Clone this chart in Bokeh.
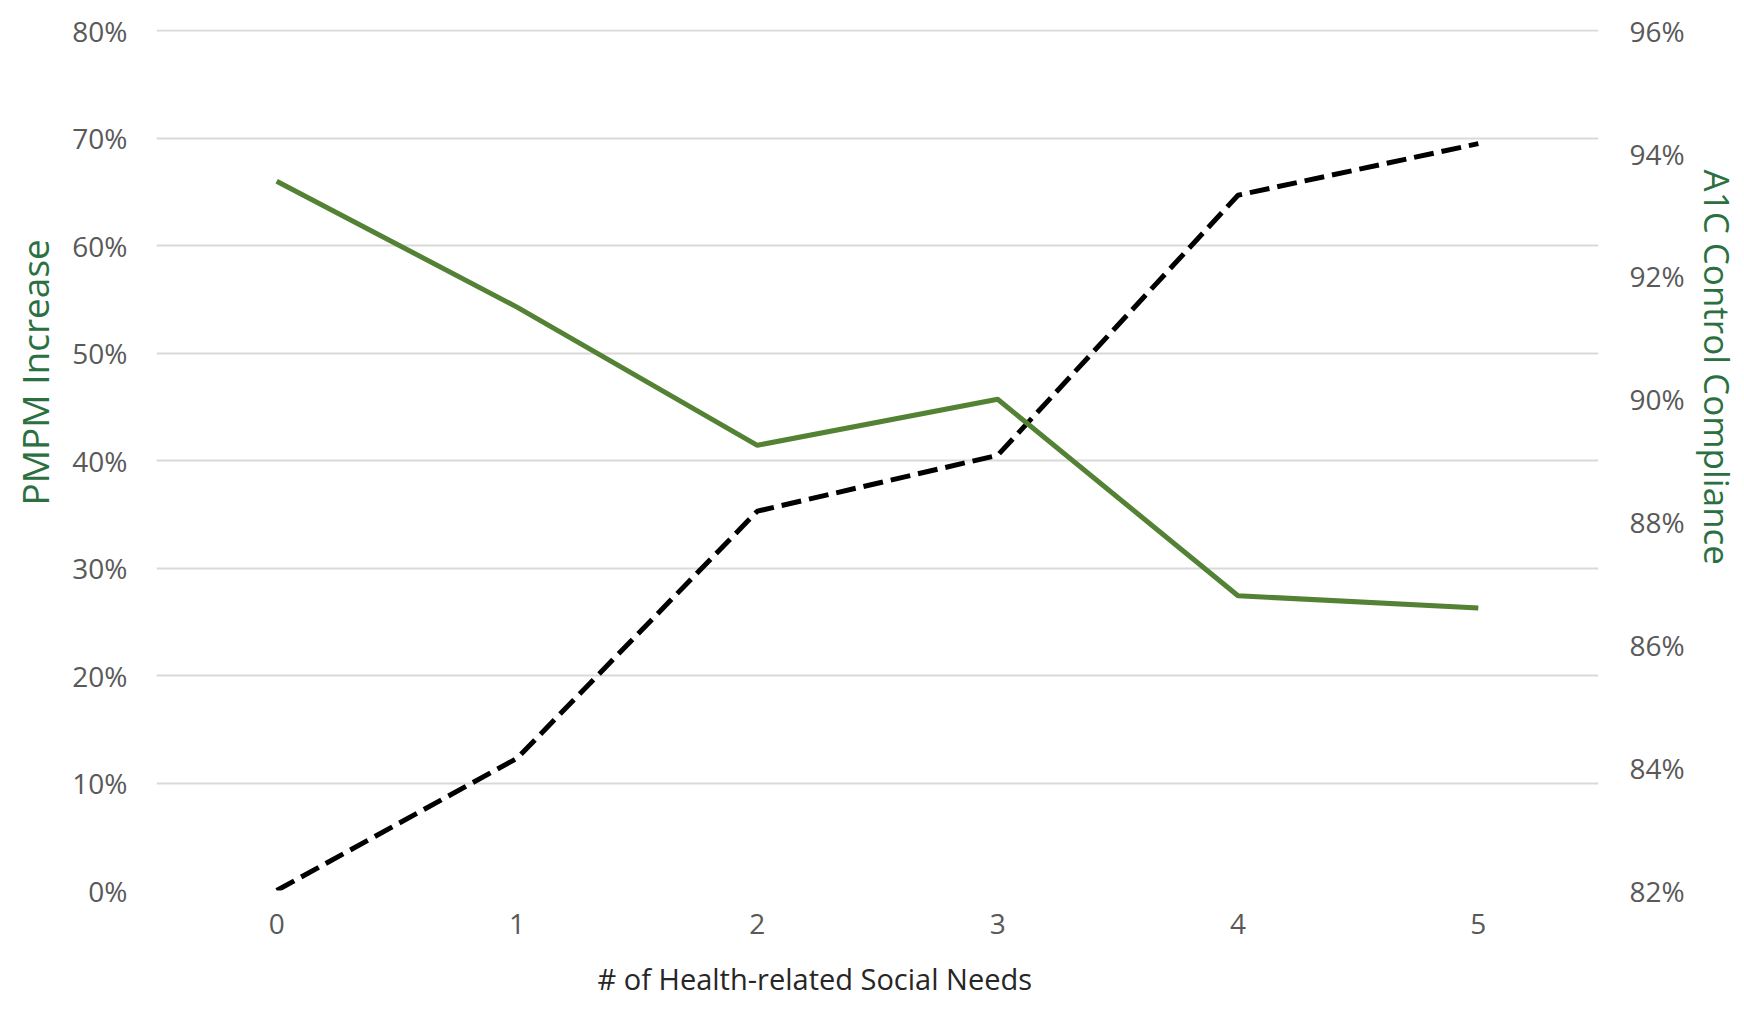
from bokeh.plotting import figure
from bokeh.models import Range1d, LinearAxis, NumeralTickFormatter, FixedTicker, Title, ColumnDataSource
from bokeh.embed import file_html
from bokeh.resources import INLINE

# ---- data ----
needs = [0, 1, 2, 3, 4, 5]
pmpm_increase = [0.0, 0.123, 0.353, 0.405, 0.647, 0.695]
a1c_compliance = [0.9355, 0.915, 0.8925, 0.90, 0.868, 0.866]
left_ticks = [0, 0.1, 0.2, 0.3, 0.4, 0.5, 0.6, 0.7, 0.8]
right_ticks = [0.82, 0.84, 0.86, 0.88, 0.90, 0.92, 0.94, 0.96]

FONT = "Open Sans"
GREEN = "#548235"
TITLE_GREEN = "#2b7041"
TICK_GRAY = "#595959"

PAD = 0.0012  # tiny headroom so the top gridline is not clipped
p = figure(width=1744, height=1018, output_backend="svg", toolbar_location=None,
           x_range=Range1d(-0.5, 5.5), y_range=Range1d(0.0, 0.8 + PAD),
           min_border_left=154, min_border_right=145, min_border_top=29, min_border_bottom=126)
p.extra_y_ranges = {"a1c": Range1d(0.82, 0.96 + PAD * 0.14 / 0.8)}
p.outline_line_color = None
p.background_fill_color = "white"
p.border_fill_color = "white"

src = ColumnDataSource(dict(x=needs, pmpm=pmpm_increase, a1c=a1c_compliance))
p.line("x", "pmpm", source=src, line_color="black", line_width=5, line_dash="20 8")
p.line("x", "a1c", source=src, line_color=GREEN, line_width=5, y_range_name="a1c")

# axes
p.xaxis.ticker = FixedTicker(ticks=needs)
p.yaxis.ticker = FixedTicker(ticks=left_ticks)
p.yaxis.formatter = NumeralTickFormatter(format="0%")
right = LinearAxis(y_range_name="a1c", ticker=FixedTicker(ticks=right_ticks),
                   formatter=NumeralTickFormatter(format="0%"))
p.add_layout(right, "right")

for ax in [p.xaxis[0], p.yaxis[0], right]:
    ax.axis_line_color = None
    ax.major_tick_line_color = None
    ax.minor_tick_line_color = None
    ax.major_tick_out = 0
    ax.major_tick_in = 0
    ax.minor_tick_out = 0
    ax.minor_tick_in = 0
    ax.major_label_text_font = FONT
    ax.major_label_text_font_size = "28px"
    ax.major_label_text_color = TICK_GRAY
p.xaxis.major_label_standoff = 23
p.yaxis[0].major_label_standoff = 29
right.major_label_standoff = 31

p.xgrid.grid_line_color = None
p.ygrid.grid_line_color = "#d9d9d9"
p.ygrid.grid_line_width = 2

# axis titles
p.add_layout(Title(text="PMPM Increase", align="left", offset=385, standoff=16, vertical_align="top",
                   text_font=FONT, text_font_size="37px", text_font_style="normal",
                   text_line_height=0.6, text_color=TITLE_GREEN), "left")
p.add_layout(Title(text="A1C Control Compliance", align="left", offset=140, standoff=8, vertical_align="top",
                   text_font=FONT, text_font_size="35px", text_font_style="normal",
                   text_line_height=0.6, text_color=TITLE_GREEN), "right")
p.add_layout(Title(text="# of Health-related Social Needs", align="left", offset=441, standoff=41,
                   text_font=FONT, text_font_size="29px", text_font_style="normal",
                   text_line_height=0.6, text_color="#262626"), "below")

open("out.html", "w").write(file_html(p, INLINE))
